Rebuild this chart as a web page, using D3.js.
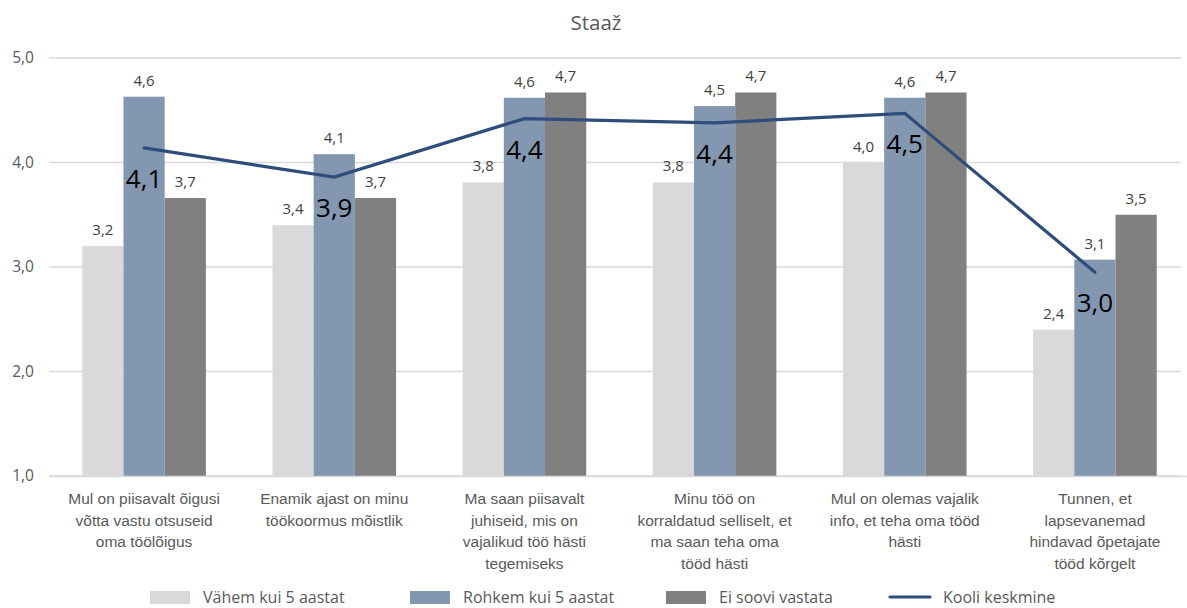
<!DOCTYPE html>
<html><head><meta charset="utf-8">
<script src="https://cdn.jsdelivr.net/npm/d3@7"></script>
<style>body{margin:0;background:#fff;font-family:"Open Sans",sans-serif;}</style>
</head><body><svg id="c" width="1187" height="608"></svg>
<script>
const title = "Staaž";
const categories = [
  "Mul on piisavalt õigusi\nvõtta vastu otsuseid\noma töölõigus",
  "Enamik ajast on minu\ntöökoormus mõistlik",
  "Ma saan piisavalt\njuhiseid, mis on\nvajalikud töö hästi\ntegemiseks",
  "Minu töö on\nkorraldatud selliselt, et\nma saan teha oma\ntööd hästi",
  "Mul on olemas vajalik\ninfo, et teha oma tööd\nhästi",
  "Tunnen, et\nlapsevanemad\nhindavad õpetajate\ntööd kõrgelt"
];
const seriesNames = ["Vähem kui 5 aastat", "Rohkem kui 5 aastat", "Ei soovi vastata"];
const lessThan5 = [3.2, 3.4, 3.81, 3.81, 4.0, 2.4];
const moreThan5 = [4.63, 4.08, 4.62, 4.54, 4.62, 3.07];
const noAnswer = [3.66, 3.66, 4.67, 4.67, 4.67, 3.5];
const lineName = "Kooli keskmine";
const schoolAvg = [4.14, 3.86, 4.42, 4.38, 4.47, 2.95];
const yTicks = [1, 2, 3, 4, 5];
const colors = ["#d9d9d9", "#8497b0", "#808080"];
const lineColor = "#2e4d7a";

const svg = d3.select("#c");
const fmt = v => d3.format(".1f")(v).replace(".", ",");
const x = d3.scaleBand().domain(d3.range(categories.length)).range([49, 1190]).paddingInner(0.35).paddingOuter(0.175);
const y = d3.scaleLinear().domain([1, 5]).range([476, 58]);
const series = [lessThan5, moreThan5, noAnswer];
const xs = d3.scaleBand().domain(d3.range(3)).range([0, x.bandwidth()]);

svg.append("text").attr("x", 596).attr("y", 30).attr("text-anchor", "middle")
  .attr("font-size", 20.5).attr("fill", "#595959").text(title);

// grid
svg.append("g").selectAll("line").data(yTicks).join("line")
  .attr("x1", 49).attr("x2", 1181).attr("y1", d => y(d)).attr("y2", d => y(d))
  .attr("stroke", "#d9d9d9").attr("stroke-width", 1.3);

const yAxis = svg.append("g").attr("transform", "translate(49,0)")
  .call(d3.axisLeft(y).tickValues(yTicks).tickFormat(fmt).tickSize(0).tickPadding(15));
yAxis.select(".domain").remove();
yAxis.selectAll("text").attr("font-size", 15.5).attr("fill", "#595959").attr("font-family", "Open Sans");

// bars
series.forEach((s, i) => {
  const g = svg.append("g");
  g.selectAll("rect").data(s).join("rect")
    .attr("x", (d, j) => x(j) + xs(i)).attr("width", xs.bandwidth())
    .attr("y", d => y(d)).attr("height", d => y(1) - y(d)).attr("fill", colors[i]);
  g.selectAll("text").data(s).join("text")
    .attr("x", (d, j) => x(j) + xs(i) + xs.bandwidth() / 2).attr("y", d => y(d) - 11)
    .attr("text-anchor", "middle").attr("font-size", 15).attr("fill", "#404040").text(fmt);
});

// line
const cx = j => x(j) + x.bandwidth() / 2;
svg.append("path").datum(schoolAvg)
  .attr("d", d3.line().x((d, j) => cx(j)).y(d => y(d)))
  .attr("fill", "none").attr("stroke", lineColor).attr("stroke-width", 3.2).attr("stroke-linecap", "round");
svg.append("g").selectAll("text").data(schoolAvg).join("text")
  .attr("x", (d, j) => cx(j)).attr("y", d => y(d) + 40)
  .attr("text-anchor", "middle").attr("font-size", 26).attr("fill", "#000").text(fmt);

// category labels
const xAxis = svg.append("g").attr("transform", "translate(0,476)")
  .call(d3.axisBottom(x).tickSize(0).tickFormat(""));
xAxis.select(".domain").attr("stroke", "#d9d9d9").attr("stroke-width", 1.3);
xAxis.selectAll(".tick").each(function (d) {
  const t = d3.select(this).append("text").attr("text-anchor", "middle")
    .attr("font-size", 15.5).attr("fill", "#595959");
  categories[d].split("\n").forEach((ln, k) => {
    t.append("tspan").attr("x", 0).attr("y", 28 + k * 21.7).text(ln);
  });
});

// legend
const legend = [
  {name: seriesNames[0], type: "rect", color: colors[0], x: 150},
  {name: seriesNames[1], type: "rect", color: colors[1], x: 410},
  {name: seriesNames[2], type: "rect", color: colors[2], x: 666},
  {name: lineName, type: "line", color: lineColor, x: 890}
];
const lg = svg.append("g").selectAll("g").data(legend).join("g").attr("transform", d => `translate(${d.x},597)`);
lg.filter(d => d.type === "rect").append("rect").attr("x", 0).attr("y", -6).attr("width", 40).attr("height", 13).attr("fill", d => d.color);
lg.filter(d => d.type === "line").append("line").attr("x1", 0).attr("x2", 40).attr("y1", 0).attr("y2", 0)
  .attr("stroke", d => d.color).attr("stroke-width", 3.2).attr("stroke-linecap", "round");
lg.append("text").attr("x", 53).attr("y", 5.5).attr("font-size", 16).attr("fill", "#595959").text(d => d.name);
</script></body></html>
